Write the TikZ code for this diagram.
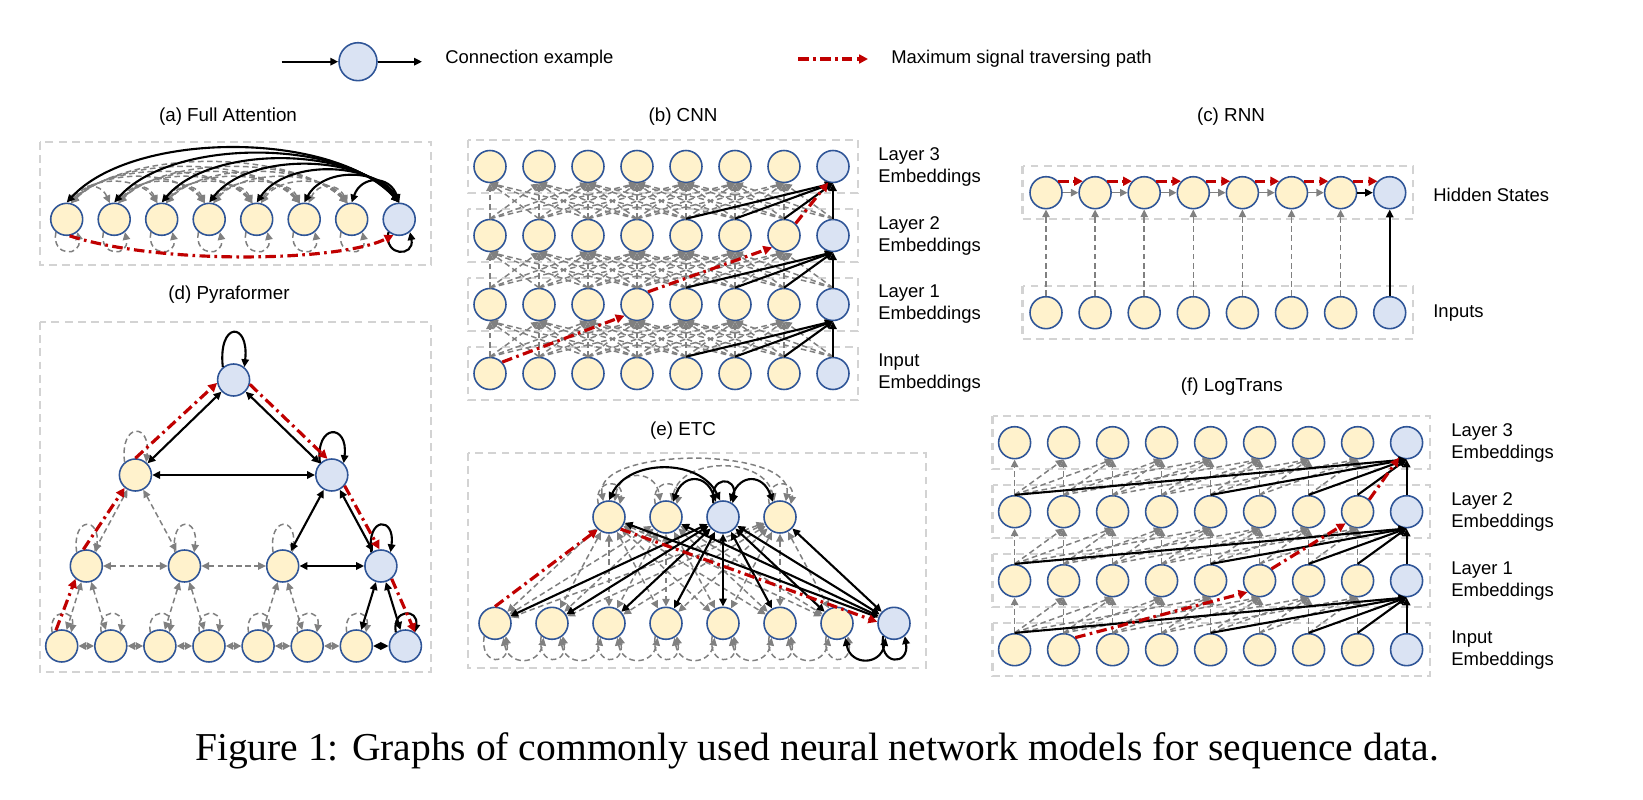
\documentclass[tikz,border=0pt]{standalone}
\usepackage{fontspec}
\setmainfont{Liberation Sans}
\newfontfamily\capfont{Liberation Serif}
\usetikzlibrary{arrows.meta}

\definecolor{ndyel}{HTML}{FFF2CC}
\definecolor{ndblue}{HTML}{DAE3F3}
\definecolor{ndline}{HTML}{2F5597}
\definecolor{edgray}{HTML}{808080}
\definecolor{boxgray}{HTML}{D3D3D3}
\definecolor{sigred}{HTML}{C00000}

\tikzset{
	nd/.style={circle,draw=ndline,line width=0.9pt,fill=ndyel,minimum size=0.64cm,inner sep=0pt},
	qn/.style={nd,fill=ndblue},
	blk/.style={draw=black,line width=1.2pt,>={Triangle[length=4.5pt,width=4.2pt]},->},
	blkb/.style={blk,<->},
	gry/.style={draw=edgray,line width=0.85pt,dash pattern=on 3.2pt off 2pt,>={Triangle[length=4.4pt,width=4.2pt]},->},
	gryb/.style={gry,<->},
	grys/.style={draw=edgray,line width=0.9pt,>={Triangle[length=4.2pt,width=4.2pt]},->},
	grysb/.style={grys,<->},
	redp/.style={draw=sigred,line width=1.8pt,dash pattern=on 6pt off 2.5pt on 1.5pt off 2.5pt,>={Triangle[length=5pt,width=5pt]},->},
	panel/.style={draw=boxgray,line width=1.2pt,dash pattern=on 4.5pt off 3pt},
	ttl/.style={font=\fontsize{10.7}{12.5}\selectfont,inner sep=0pt},
	lbl/.style={anchor=west,align=left,font=\fontsize{10.5}{12.5}\selectfont,inner sep=0pt},
	capt/.style={font=\capfont\fontsize{22.5}{26}\selectfont,inner sep=0pt}
}

\begin{document}
\begin{tikzpicture}[x=0.02cm,y=-0.02cm]
	\useasboundingbox (0,0) rectangle (1643,800);

	% legend
	\node[qn,minimum size=0.76cm] (lg) at (358,61.7) {};
	\coordinate (lgin) at (281.6,61.7);
	\coordinate (lgout) at (422,61.7);
	\draw[blk] (lgin) -- (lg);
	\draw[blk] (lg) -- (lgout);
	\node[lbl] (lgt) at (445,59) {Connection example};
	\coordinate (rdin) at (798,59);
	\coordinate (rdout) at (868,59);
	\draw[redp] (rdin) -- (rdout);
	\node[lbl] (rdt) at (891,59) {Maximum signal traversing path};

	% (a) full attention
	\node[ttl] (ta) at (228,117) {(a) Full Attention};
	\draw[panel] (40,142) rectangle (431,265);
	\foreach \i in {1,...,7}
		\node[nd] (a\i) at ({66.7+47.5*(\i-1)},219.3) {};
	\node[qn] (a8) at (399.2,219.3) {};
	\foreach \j in {2,...,7}{
		\foreach \i in {1,...,7}{
			\ifnum\i<\j
				\pgfmathsetmacro\spanw{47.5*(\j-\i)}
				\pgfmathsetmacro\arch{14+0.14*\spanw}
				\draw[gryb] (a\j.105) .. controls +({-0.2*\spanw},-\arch) and +({0.2*\spanw},-\arch) .. (a\i.75);
			\fi
		}
	}
	\foreach \i in {1,...,7}{
		\pgfmathsetmacro\spanw{47.5*(8-\i)}
		\pgfmathsetmacro\arch{20+0.157*\spanw}
		\draw[blkb] (a8.north) .. controls +({-0.2*\spanw},-\arch) and +({0.2*\spanw},-\arch) .. (a\i.north);
	}
	\foreach \i in {1,...,7}
		\draw[gry] (a\i.-130) .. controls +(-5,25) and +(5,25) .. (a\i.-50);
	\draw[blk] (a8.-130) .. controls +(-5,25) and +(5,25) .. (a8.-50);
	\draw[redp] (a1.-80) .. controls (160,265) and (340,262) .. (a8.-110);

	% (b) CNN
	\node[ttl] (tb) at (683,117) {(b) CNN};
	\foreach \r/\yy/\nm in {0/373.5/Input,1/304.5/Layer 1,2/235.5/Layer 2,3/166.5/Layer 3}{
		\draw[panel] (468,\yy-26.5) rectangle (857.7,\yy+26.5);
		\foreach \i in {1,...,7}
			\node[nd] (b\r-\i) at ({490+49*(\i-1)},\yy) {};
		\node[qn] (b\r-8) at (833,\yy) {};
		\node[lbl] (lb\r) at (878,\yy) {\nm\\Embeddings};
	}
	\foreach \r in {1,2,3}{
		\pgfmathtruncatemacro\lo{\r-1}
		\foreach \j in {1,...,7}{
			\foreach \i in {1,...,8}{
				\pgfmathtruncatemacro\df{abs(\i-\j)}
				\ifnum\df<4 \draw[gry] (b\lo-\i.north) -- (b\r-\j.south); \fi
			}
		}
		\foreach \i in {5,...,8}
			\draw[blk] (b\lo-\i.north) -- (b\r-8.south);
	}
	\draw[redp] (b0-1.43) -- (b1-4.-138);
	\draw[redp] (b1-4.49) -- (b2-7.-135);
	\draw[redp] (b2-7.46) -- (b3-8.-107);

	% (c) RNN
	\node[ttl] (tc) at (1231,117) {(c) RNN};
	\draw[panel] (1022.5,166.4) rectangle (1412.7,219);
	\draw[panel] (1022.5,286.4) rectangle (1412.7,339);
	\foreach \i in {1,...,7}{
		\node[nd] (h\i) at ({1046+49.1*(\i-1)},192.7) {};
		\node[nd] (x\i) at ({1046+49.1*(\i-1)},312.7) {};
	}
	\node[qn] (h8) at (1389.7,192.7) {};
	\node[qn] (x8) at (1389.7,312.7) {};
	\node[lbl] (lh) at (1433,195) {Hidden States};
	\node[lbl] (lx) at (1433,312.7) {Inputs};
	\foreach \i in {1,...,7}
		\draw[gry] (x\i) -- (h\i);
	\draw[blk] (x8) -- (h8);
	\foreach \i [count=\j from 2] in {1,...,6}
		\draw[grys] (h\i) -- (h\j);
	\draw[blk] (h7) -- (h8);
	\foreach \i [count=\j from 2] in {1,...,7}
		\draw[redp] (h\i.43) -- (h\j.137);

	% (d) Pyraformer
	\node[ttl] (td) at (229,295) {(d) Pyraformer};
	\draw[panel] (40,322) rectangle (431,672);
	\foreach \i in {1,...,7}
		\node[nd] (p0-\i) at ({61.7+49.1*(\i-1)},646) {};
	\node[qn] (p0-8) at (405.4,646) {};
	\foreach \i in {1,2,3}
		\node[nd] (p1-\i) at ({86.3+98.2*(\i-1)},566) {};
	\node[qn] (p1-4) at (380.9,566) {};
	\node[nd] (p2-1) at (135.4,475) {};
	\node[qn] (p2-2) at (331.8,475) {};
	\node[qn] (p3-1) at (233.6,380) {};
	\foreach \a/\b in {p2-1/p1-1,p2-1/p1-2,p1-1/p1-2,p1-2/p1-3,p1-1/p0-1,p1-1/p0-2,p1-2/p0-3,p1-2/p0-4,p1-3/p0-5,p1-3/p0-6}
		\draw[gryb] (\a) -- (\b);
	\foreach \i [count=\j from 2] in {1,...,6}
		\draw[grysb] (p0-\i) -- (p0-\j);
	\foreach \i in {1,...,7}
		\draw[gry] (p0-\i.125) .. controls +(-4,-24) and +(4,-24) .. (p0-\i.55);
	\foreach \i in {1,2,3}
		\draw[gry] (p1-\i.125) .. controls +(-5,-36) and +(5,-36) .. (p1-\i.55);
	\draw[gry] (p2-1.130) .. controls +(-5,-40) and +(5,-40) .. (p2-1.50);
	\foreach \a/\b in {p3-1/p2-1,p3-1/p2-2,p2-1/p2-2,p2-2/p1-3,p2-2/p1-4,p1-3/p1-4,p1-4/p0-7,p1-4/p0-8,p0-7/p0-8}
		\draw[blkb] (\a) -- (\b);
	\draw[blk] (p0-8.125) .. controls +(-4,-24) and +(4,-24) .. (p0-8.55);
	\draw[blk] (p1-4.125) .. controls +(-5,-36) and +(5,-36) .. (p1-4.55);
	\draw[blk] (p2-2.135) .. controls +(-5,-40) and +(5,-40) .. (p2-2.45);
	\draw[blk] (p3-1.130) .. controls +(-5,-46) and +(5,-46) .. (p3-1.50);
	\draw[redp] (p0-1.110) -- (p1-1.-130);
	\draw[redp] (p1-1.100) -- (p2-1.-130);
	\draw[redp] (p2-1.90) -- (p3-1.190);
	\draw[redp] (p3-1.-15) -- (p2-2.105);
	\draw[redp] (p2-2.-40) -- (p1-4.95);
	\draw[redp] (p1-4.-50) -- (p0-8.55);

	% (e) ETC
	\node[ttl] (te) at (683,431) {(e) ETC};
	\draw[panel] (468,452.7) rectangle (925.7,668);
	\foreach \i in {1,2,4}
		\node[nd] (g\i) at ({609+57*(\i-1)},517) {};
	\node[qn] (g3) at (723,517) {};
	\foreach \i in {1,...,7}
		\node[nd] (e\i) at ({495+57*(\i-1)},623.3) {};
	\node[qn] (e8) at (894,623.3) {};
	\foreach \g in {1,2,4}
		\foreach \i in {1,...,7}
			\draw[gryb] (g\g) -- (e\i);
	\foreach \g in {1,2,4}
		\draw[gry] (g\g.130) .. controls +(-5,-26) and +(5,-26) .. (g\g.50);
	\draw[gryb] (g1.110) .. controls +(-10,-55) and +(10,-55) .. (g4.70);
	\draw[gryb] (g1.70) .. controls +(5,-32) and +(-5,-32) .. (g2.110);
	\draw[gryb] (g2.70) .. controls +(10,-45) and +(-10,-45) .. (g4.110);
	\foreach \i [count=\j from 2] in {1,...,6}
		\draw[gryb] (e\i.-60) .. controls +(5,28) and +(-5,28) .. (e\j.-120);
	\foreach \i in {1,...,7}
		\draw[gry] (e\i.-130) .. controls +(-5,30) and +(5,30) .. (e\i.-50);
	\foreach \i in {1,...,8}
		\draw[blkb] (g3) -- (e\i);
	\foreach \g in {1,2,4}
		\draw[blkb] (g\g) -- (e8);
	\draw[blkb] (g3.100) .. controls +(-20,-42) and +(20,-42) .. (g1.north);
	\draw[blkb] (g3.115) .. controls +(-10,-28) and +(10,-28) .. (g2.65);
	\draw[blkb] (g3.65) .. controls +(10,-28) and +(-10,-28) .. (g4.115);
	\draw[blk] (g3.125) .. controls +(-5,-28) and +(5,-28) .. (g3.55);
	\draw[blkb] (e7.-60) .. controls +(5,28) and +(-5,28) .. (e8.-120);
	\draw[blk] (e8.-130) .. controls +(-5,30) and +(5,30) .. (e8.-50);
	\draw[redp] (e1.north) -- (g1.-132);
	\draw[redp] (g1.-46) -- (e8.175);

	% (f) LogTrans
	\node[ttl] (tf) at (1231.8,386.7) {(f) LogTrans};
	\foreach \r/\yy/\nm in {0/649.7/Input,1/580.7/Layer 1,2/511.7/Layer 2,3/442.7/Layer 3}{
		\draw[panel] (992.5,\yy-26.5) rectangle (1429.8,\yy+26.5);
		\foreach \i in {1,...,8}
			\node[nd] (f\r-\i) at ({1014.6+49*(\i-1)},\yy) {};
		\node[qn] (f\r-9) at (1406.6,\yy) {};
		\node[lbl] (lf\r) at (1451,\yy) {\nm\\Embeddings};
	}
	\foreach \r in {1,2,3}{
		\pgfmathtruncatemacro\lo{\r-1}
		\foreach \j in {1,...,8}{
			\foreach \o in {0,1,2,4,8}{
				\pgfmathtruncatemacro\src{\j-\o}
				\ifnum\src>0 \draw[gry] (f\lo-\src.north) -- (f\r-\j.south); \fi
			}
		}
		\foreach \o in {0,1,2,4,8}{
			\pgfmathtruncatemacro\src{9-\o}
			\draw[blk] (f\lo-\src.north) -- (f\r-9.south);
		}
	}
	\draw[redp] (f0-2.46) -- (f1-6.-137);
	\draw[redp] (f1-6.45) -- (f2-8.-136);
	\draw[redp] (f2-8.46) -- (f3-9.-117);

	\node[capt] (cap) at (817,751) {Figure 1: Graphs of commonly used neural network models for sequence data.};
\end{tikzpicture}
\end{document}
